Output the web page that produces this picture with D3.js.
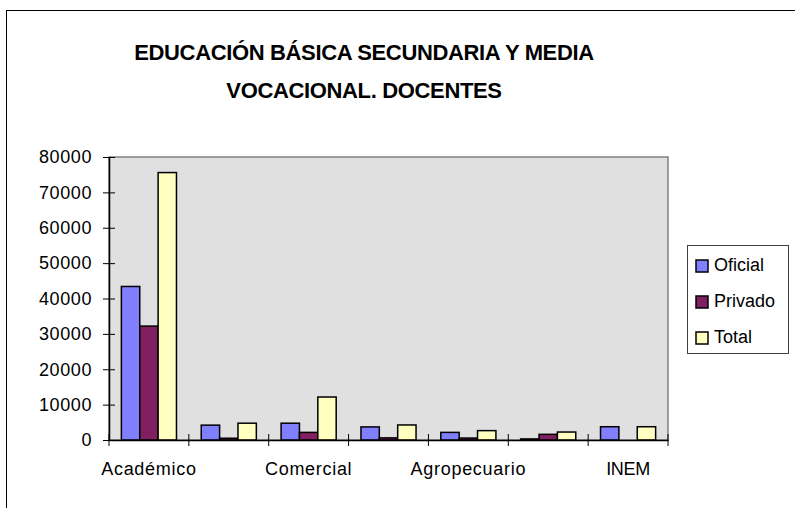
<!DOCTYPE html>
<html>
<head>
<meta charset="utf-8">
<script src="https://cdn.jsdelivr.net/npm/d3@7"></script>
<style>
  html, body { margin: 0; padding: 0; background: #fff; }
  svg { display: block; font-family: "Liberation Sans", Arial, sans-serif; }
</style>
</head>
<body>
<svg id="chart" width="795" height="508"></svg>
<script>
const categories = ["Académico", "Industrial", "Comercial", "Pedagógico", "Agropecuario", "Promoción Social", "INEM"];
const shownLabels = ["Académico", "Comercial", "Agropecuario", "INEM"];
const seriesNames = ["Oficial", "Privado", "Total"];
const oficial = [43400, 4200, 4750, 3700, 2150, 300, 3750];
const privado = [32200, 500, 2150, 600, 550, 1600, 0];
const total   = [75600, 4750, 12150, 4250, 2650, 2250, 3750];
const yTicks  = [0, 10000, 20000, 30000, 40000, 50000, 60000, 70000, 80000];
const titleLines = ["EDUCACIÓN BÁSICA SECUNDARIA Y MEDIA", "VOCACIONAL. DOCENTES"];

const colors = ["#8080ff", "#802060", "#ffffc0"];
const seriesValues = [oficial, privado, total];

const svg = d3.select("#chart");

// outer frame
svg.append("rect")
  .attr("x", 6.5).attr("y", 10.5).attr("width", 900).attr("height", 700)
  .attr("fill", "none").attr("stroke", "#000").attr("stroke-width", 1);

// title
const title = svg.append("text")
  .attr("text-anchor", "middle")
  .attr("font-weight", "bold")
  .attr("font-size", 22)
  .attr("letter-spacing", -0.35)
  .attr("fill", "#000");
titleLines.forEach((t, i) => {
  title.append("tspan").attr("x", 364).attr("y", 60 + i * 38).text(t);
});

const plot = { left: 109, right: 668, top: 157, bottom: 440 };

const x0 = d3.scaleBand().domain(categories).range([plot.left, plot.right]).paddingInner(0).paddingOuter(0);
const groupFrac = 0.69;
const x1 = d3.scaleBand().domain(seriesNames)
  .range([0, x0.bandwidth() * groupFrac]).padding(0);
const groupOffset = x0.bandwidth() * (1 - groupFrac) / 2;

const y = d3.scaleLinear().domain([0, 80000]).range([plot.bottom, plot.top]);

// plot background
svg.append("rect")
  .attr("x", plot.left).attr("y", plot.top)
  .attr("width", plot.right - plot.left).attr("height", plot.bottom - plot.top)
  .attr("fill", "#e0e0e0").attr("stroke", "#808080").attr("stroke-width", 1.5);

// bars
const rows = categories.map((c, i) => ({ cat: c, vals: seriesNames.map((s, k) => ({ s, k, v: seriesValues[k][i] })) }));
const groups = svg.selectAll("g.grp").data(rows).enter().append("g")
  .attr("transform", d => `translate(${x0(d.cat) + groupOffset},0)`);
groups.selectAll("rect").data(d => d.vals.filter(e => e.v > 0)).enter().append("rect")
  .attr("x", d => x1(d.s))
  .attr("y", d => y(d.v))
  .attr("width", x1.bandwidth())
  .attr("height", d => y(0) - y(d.v))
  .attr("fill", d => colors[d.k])
  .attr("stroke", "#000").attr("stroke-width", 1.5);

// y axis
const yAxis = d3.axisLeft(y).tickValues(yTicks).tickSizeInner(6).tickSizeOuter(0).tickPadding(11).tickFormat(d3.format("d"));
const yg = svg.append("g").attr("transform", `translate(${plot.left},0)`).call(yAxis);
yg.select(".domain").attr("stroke", "#000").attr("stroke-width", 1.5);
yg.selectAll(".tick line").attr("x2", 6).attr("x1", -6).attr("stroke", "#000");
yg.selectAll("text").attr("font-size", 18).attr("letter-spacing", 0.6).attr("fill", "#000")
  .attr("font-family", "'Liberation Sans', Arial, sans-serif");

// x axis
const xBoundaries = d3.axisBottom(x0).tickSize(0).tickFormat(d => shownLabels.includes(d) ? d : "");
const xg = svg.append("g").attr("transform", `translate(0,${plot.bottom})`).call(xBoundaries);
xg.select(".domain").attr("stroke", "#000").attr("stroke-width", 1.5);
xg.selectAll(".tick line").remove();
xg.selectAll("text").attr("font-size", 18)
  .attr("letter-spacing", d => d === "INEM" ? -0.3 : 0.7).attr("fill", "#000")
  .attr("dy", 0).attr("y", 35)
  .attr("font-family", "'Liberation Sans', Arial, sans-serif");
// boundary tick marks crossing the axis
const bounds = categories.map(c => x0(c)).concat([plot.right]);
xg.selectAll("line.bt").data(bounds).enter().append("line")
  .attr("x1", d => d).attr("x2", d => d).attr("y1", -6).attr("y2", 6)
  .attr("stroke", "#000").attr("stroke-width", 1);

// legend
const lg = svg.append("g");
lg.append("rect").attr("x", 687.5).attr("y", 245.5).attr("width", 101).attr("height", 108)
  .attr("fill", "#fff").attr("stroke", "#404040").attr("stroke-width", 1);
seriesNames.forEach((s, i) => {
  const yy = 260 + i * 36;
  lg.append("rect").attr("x", 696).attr("y", yy).attr("width", 12).attr("height", 12)
    .attr("fill", colors[i]).attr("stroke", "#000").attr("stroke-width", 1.5);
  lg.append("text").attr("x", 714).attr("y", yy + 11).attr("font-size", 18)
    .attr("fill", "#000").text(s);
});
</script>
</body>
</html>
